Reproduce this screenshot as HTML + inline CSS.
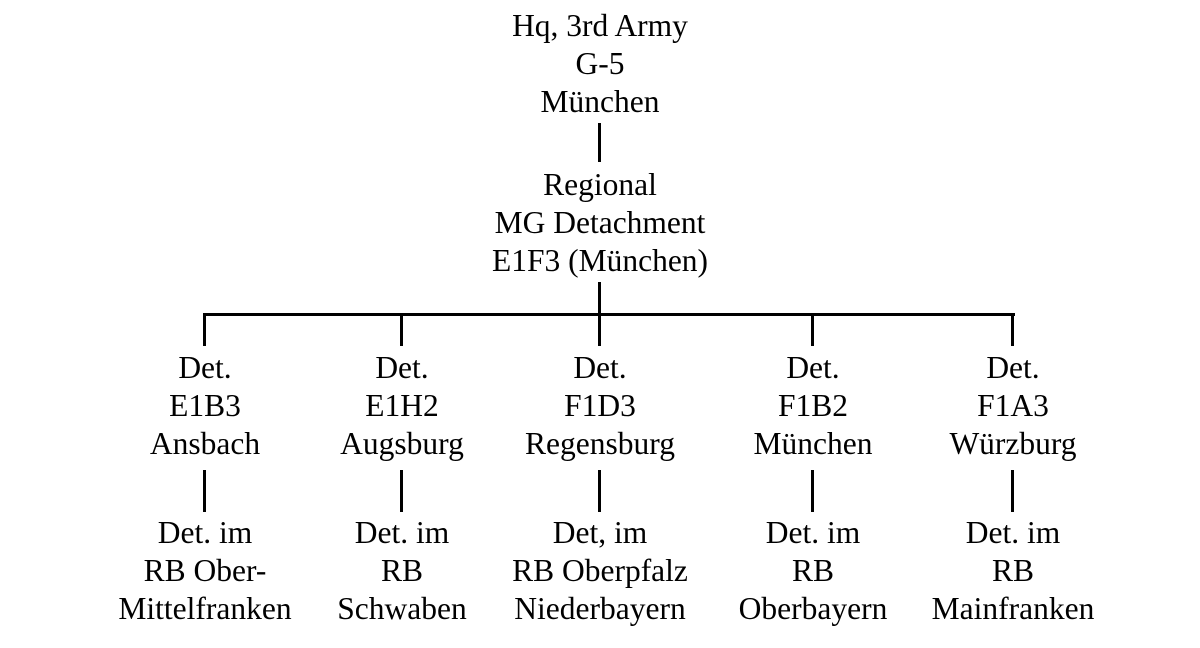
<!DOCTYPE html>
<html><head><meta charset="utf-8"><style>
body{margin:0;width:1200px;height:648px;background:#fff;position:relative;overflow:hidden;font-family:"Liberation Serif",serif;font-size:31.5px;color:#000}
.t{position:absolute;width:300px;margin-left:-150px;text-align:center;line-height:38px;white-space:nowrap}
.l{position:absolute;background:#000}
</style></head><body>
<div class="t" style="left:600px;top:7px">Hq, 3rd Army<br>G-5<br>München</div>
<div class="t" style="left:600px;top:166px">Regional<br>MG Detachment<br>E1F3 (München)</div>
<div class="l" style="left:598px;top:123px;width:3px;height:39px"></div>
<div class="l" style="left:598px;top:282px;width:3px;height:64px"></div>
<div class="l" style="left:203px;top:313px;width:812px;height:3px"></div>
<div class="l" style="left:203px;top:313px;width:3px;height:33px"></div>
<div class="l" style="left:400px;top:313px;width:3px;height:33px"></div>
<div class="l" style="left:811px;top:313px;width:3px;height:33px"></div>
<div class="l" style="left:1011px;top:313px;width:3px;height:33px"></div>

<div class="t" style="left:205px;top:349px">Det.<br>E1B3<br>Ansbach</div>
<div class="t" style="left:402px;top:349px">Det.<br>E1H2<br>Augsburg</div>
<div class="t" style="left:600px;top:349px">Det.<br>F1D3<br>Regensburg</div>
<div class="t" style="left:813px;top:349px">Det.<br>F1B2<br>München</div>
<div class="t" style="left:1013px;top:349px">Det.<br>F1A3<br>Würzburg</div>

<div class="l" style="left:203px;top:470px;width:3px;height:42px"></div>
<div class="l" style="left:400px;top:470px;width:3px;height:42px"></div>
<div class="l" style="left:598px;top:470px;width:3px;height:42px"></div>
<div class="l" style="left:811px;top:470px;width:3px;height:42px"></div>
<div class="l" style="left:1011px;top:470px;width:3px;height:42px"></div>

<div class="t" style="left:205px;top:514px">Det. im<br>RB Ober-<br>Mittelfranken</div>
<div class="t" style="left:402px;top:514px">Det. im<br>RB<br>Schwaben</div>
<div class="t" style="left:600px;top:514px">Det, im<br>RB Oberpfalz<br>Niederbayern</div>
<div class="t" style="left:813px;top:514px">Det. im<br>RB<br>Oberbayern</div>
<div class="t" style="left:1013px;top:514px">Det. im<br>RB<br>Mainfranken</div>
</body></html>
